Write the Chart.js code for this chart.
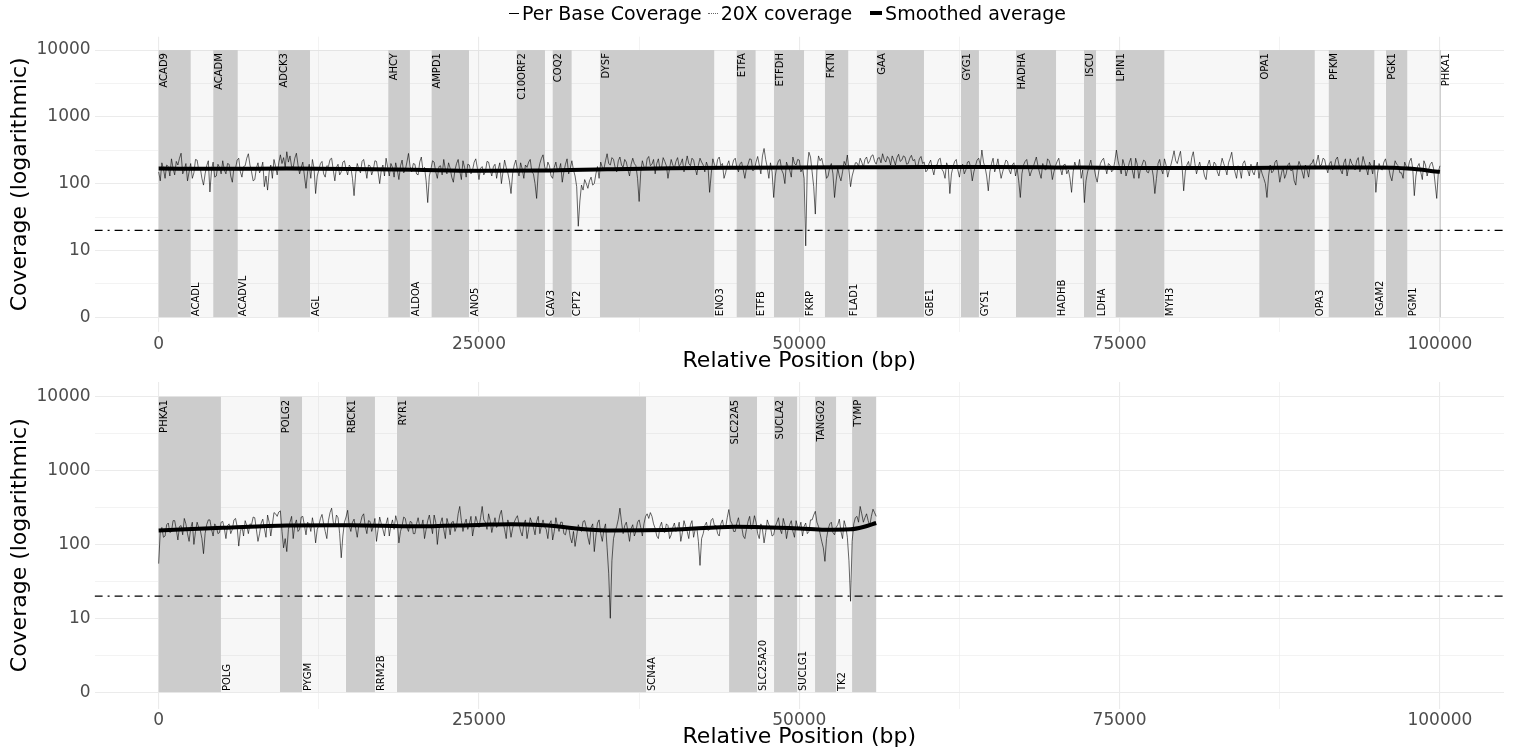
<!DOCTYPE html>
<html>
<head>
<meta charset="utf-8">
<script src="https://cdn.jsdelivr.net/npm/chart.js@4.4.1/dist/chart.umd.min.js"></script>
<style>
  body { margin: 0; background: #fff; width: 1513px; height: 753px; overflow: hidden; font-family: "DejaVu Sans", sans-serif; }
  .panel { position: absolute; left: 0; width: 1513px; }
  #p1 { top: 0; height: 376px; }
  #p2 { top: 366px; height: 387px; }
  #legend { position: absolute; top: 1px; left: 0; width: 1451px; padding-left: 62px; height: 24px; display: flex; justify-content: center; align-items: center; font-size: 19px; color: #000; z-index: 2; }
  .key { display: inline-block; width: 10px; margin-right: 3px; }
  .key.thin { border-top: 1px solid #000; }
  .key.dot { border-top: 1px dotted #666; }
  .key.thick { border-top: 4px solid #000; width: 12px; }
  .gap { display: inline-block; width: 6px; }
  .gap2 { display: inline-block; width: 18px; }
</style>
</head>
<body>
<div id="legend">
  <span class="key thin"></span><span>Per Base Coverage</span><span class="gap"></span>
  <span class="key dot"></span><span>20X coverage</span><span class="gap2"></span>
  <span class="key thick"></span><span>Smoothed average</span>
</div>
<div class="panel" id="p1"><canvas id="grafico1"></canvas></div>
<div class="panel" id="p2"><canvas id="grafico2"></canvas></div>
<script>
const coverageStep = 125;

const panel1Coverage = [
  150,110,205,165,120,190,180,130,235,170,135,215,190,240,285,140,160,200,110,150,200,120,145,230,225,160,170,120,95,140,185,220,75,160,210,125,130,195,175,140,
  220,160,140,200,195,130,105,175,170,225,240,150,125,180,185,240,280,190,150,110,115,170,205,145,165,210,90,130,80,150,190,120,230,180,135,205,270,200,245,175,
  300,210,260,180,175,240,285,190,140,175,210,130,85,150,195,120,230,170,71,130,160,200,215,140,125,185,180,230,240,160,110,175,195,135,150,210,220,165,135,190,
  175,120,66,140,200,165,145,215,230,170,120,190,185,135,160,220,215,150,100,160,190,130,240,175,130,200,175,125,205,160,115,185,225,145,160,210,283,180,150,200,
  195,140,135,210,250,160,175,110,52,130,165,220,210,150,120,180,185,135,230,165,140,205,170,125,105,160,200,230,155,115,220,175,125,195,190,140,160,210,235,170,
  115,170,180,135,150,215,210,160,130,180,195,120,165,205,100,150,225,175,145,110,71,140,190,225,160,130,205,165,120,190,175,210,230,150,140,100,60,150,200,240,
  270,180,150,210,185,130,120,175,210,155,160,200,105,150,195,235,140,170,220,160,130,90,23,55,95,80,115,100,85,110,125,95,100,140,180,120,210,175,165,220,
  280,200,190,245,230,175,150,220,250,190,175,230,210,160,130,195,240,200,185,120,54,150,220,180,160,235,255,185,195,230,140,200,235,165,175,245,215,185,120,170,
  230,190,170,215,245,180,200,235,150,195,260,200,185,240,225,170,135,190,240,210,190,150,210,180,74,140,235,195,165,230,250,185,200,120,145,190,220,165,180,225,
  240,175,150,200,210,160,120,170,195,235,230,155,165,210,255,190,140,260,336,230,175,120,205,150,62,130,185,220,230,160,140,100,210,180,160,125,250,200,190,230,
  225,150,170,120,11.7,180,295,250,150,90,35,160,260,220,240,185,180,120,130,175,200,140,62,110,170,130,110,150,215,190,268,160,90,130,160,205,205,180,240,210,
  175,230,250,200,220,260,270,215,195,240,245,205,280,230,210,255,235,190,260,225,190,245,275,215,225,260,250,195,200,240,265,220,230,175,185,235,255,200,210,150,
  160,200,225,170,135,185,190,230,240,165,150,120,205,175,71,140,180,215,230,160,125,180,195,140,160,210,215,175,110,150,185,225,240,190,318,210,175,130,78,150,
  200,240,150,180,235,165,120,150,185,225,215,160,140,190,205,130,170,110,62,140,190,215,230,170,130,155,175,210,250,185,145,120,200,165,160,235,220,180,115,150,
  185,215,240,170,135,190,195,140,160,120,74,150,210,175,170,230,120,160,52,110,150,185,225,165,180,130,105,155,200,225,240,180,140,200,190,150,160,215,318,220,
  175,140,230,190,130,160,205,240,155,120,240,195,120,165,190,225,215,150,145,180,180,130,71,120,200,230,165,140,235,190,125,160,190,240,310,220,200,250,305,180,
  78,150,190,215,160,245,300,200,140,175,210,160,175,130,115,190,225,170,160,210,195,150,130,180,240,200,170,135,205,240,295,190,150,120,185,165,120,200,220,175,
  160,130,195,150,135,175,210,120,175,140,120,100,62,130,190,145,155,210,225,165,105,140,180,120,140,190,205,155,165,110,95,170,215,185,150,120,190,160,125,195,
  200,230,165,210,268,185,190,240,230,175,145,200,215,160,175,230,250,190,160,140,205,235,130,175,235,200,185,160,220,245,150,180,255,205,170,135,210,185,140,225,
  74,140,200,165,160,210,235,180,175,130,110,160,220,195,185,145,145,120,210,180,165,215,240,170,66,130,180,200,150,115,220,190,130,165,195,210,170,100,60,150,
  185
];

const panel2Coverage = [
  55,150,170,125,130,185,195,145,150,210,210,160,115,175,180,135,225,190,140,110,165,200,100,150,200,170,155,120,75,140,185,215,215,160,130,190,175,140,145,200,
  205,165,120,180,190,140,160,215,225,175,95,150,175,130,210,180,140,190,185,235,230,160,110,140,195,220,165,125,250,200,130,185,270,260,240,275,285,150,90,120,
  80,160,200,240,120,185,215,150,160,235,240,180,135,200,190,150,230,175,105,160,180,225,255,190,150,120,210,270,310,200,175,250,230,140,66,130,200,235,290,180,
  150,200,220,165,125,185,195,240,260,175,140,210,205,150,175,225,110,160,235,190,160,130,190,230,130,180,215,160,245,200,105,150,180,235,225,170,150,205,200,140,
  140,190,230,175,170,215,120,160,210,250,185,140,250,200,100,160,195,230,160,120,225,185,135,200,205,150,175,260,327,210,150,190,220,160,190,240,130,175,240,200,
  170,230,327,215,200,160,260,210,145,185,230,170,185,250,290,200,160,120,215,180,125,165,200,225,245,190,150,130,190,215,120,160,230,200,170,135,205,240,140,180,
  215,175,160,120,190,210,115,150,230,180,150,200,200,140,135,175,175,125,105,150,94,130,185,160,150,205,210,170,125,100,170,190,80,130,195,215,140,110,160,190,
  90,40,10,60,120,150,175,220,310,200,140,180,200,150,110,165,185,130,150,200,215,170,130,190,240,260,225,270,240,190,165,130,120,175,200,150,145,190,180,120,
  135,170,195,150,160,200,110,145,210,175,150,120,185,210,125,160,170,110,52,120,140,180,200,155,160,215,225,180,180,140,130,190,215,165,170,230,297,210,190,150,
  150,195,230,170,175,130,120,160,205,240,160,185,245,200,140,120,190,160,105,145,215,185,170,130,135,175,200,230,160,140,225,185,120,160,185,210,150,125,210,170,
  165,200,130,175,195,140,150,215,215,250,281,200,175,140,110,90,59,120,160,190,200,145,135,170,185,220,150,120,210,175,125,60,17,110,190,230,240,200,327,260,
  200,230,260,210,180,240,300,270,240
];

// smoothed average
const panel1SmoothPos = [0,5000,10000,15000,20000,25000,30000,35000,40000,45000,50000,55000,60000,65000,70000,75000,80000,85000,90000,95000,97500,100000];
const panel1SmoothVals = [168,167,168,166,161,156,157,164,170,173,175,176,177,177,175,172,171,172,175,174,168,150];
const panel2SmoothPos = [0,5000,10000,15000,20000,25000,27500,30000,35000,40000,45000,50000,52000,54000,55000,56000];
const panel2SmoothVals = [155,168,181,182,176,184,188,182,155,158,174,165,158,160,172,195];

// genes (start positions, bp)
const panel1Genes = ["ACAD9","ACADL","ACADM","ACADVL","ADCK3","AGL","AHCY","ALDOA","AMPD1","ANO5","C10ORF2","CAV3","COQ2","CPT2","DYSF","ENO3","ETFA","ETFB","ETFDH","FKRP","FKTN","FLAD1","GAA","GBE1","GYG1","GYS1","HADHA","HADHB","ISCU","LDHA","LPIN1","MYH3","OPA1","OPA3","PFKM","PGAM2","PGK1","PGM1","PHKA1"];
const panel1Starts = [0,2500,4260,6170,9330,11810,17920,19610,21300,24220,27940,30150,30750,32230,34440,43360,45110,46590,48020,50370,52000,53820,56040,59730,62620,64020,66910,70040,72220,73160,74690,78490,85900,90230,91320,94880,95790,97450,100000];
const panel1End = 100000;
const panel2Genes = ["PHKA1","POLG","POLG2","PYGM","RBCK1","RRM2B","RYR1","SCN4A","SLC22A5","SLC25A20","SUCLA2","SUCLG1","TANGO2","TK2","TYMP"];
const panel2Starts = [0,4860,9470,11190,14620,16880,18600,38040,44520,46700,48030,49830,51230,52870,54120];
const panel2End = 56000;

const threshold = 20;

// axes
const xTickValues = [0,25000,50000,75000,100000];
const xMinorValues = [12500,37500,62500,87500];
const yTickValues = [1,10,100,1000,10000];
const yTickLabels = ["0","10","100","1000","10000"];
const yMinorValues = [3.1623,31.623,316.23,3162.3];

Chart.defaults.font.family = "DejaVu Sans";
Chart.defaults.animation = false;

const genePlugin = {
  id: "genes",
  beforeDatasetsDraw(chart, args, opts) {
    const { ctx, scales: { x, y } } = chart;
    const top = y.getPixelForValue(10000);
    const bottom = y.getPixelForValue(1);
    ctx.save();
    opts.starts.forEach((s, i) => {
      const e = i + 1 < opts.starts.length ? opts.starts[i + 1] : opts.end;
      const x0 = x.getPixelForValue(s);
      const x1 = x.getPixelForValue(e);
      ctx.fillStyle = i % 2 === 0 ? "#cccccc" : "rgba(0,0,0,0.03)";
      ctx.fillRect(x0, top, Math.max(x1 - x0, 1), bottom - top);
    });
    ctx.restore();
  },
  afterDatasetsDraw(chart, args, opts) {
    const { ctx, scales: { x, y } } = chart;
    const top = y.getPixelForValue(10000);
    const bottom = y.getPixelForValue(1);
    ctx.save();
    ctx.font = "10px 'DejaVu Sans'";
    ctx.fillStyle = "#000";
    ctx.textBaseline = "top";
    opts.names.forEach((name, i) => {
      const px = x.getPixelForValue(opts.starts[i]);
      ctx.save();
      if (i % 2 === 0) {
        ctx.translate(px + 1, top + 3);
        ctx.rotate(-Math.PI / 2);
        ctx.textAlign = "right";
      } else {
        ctx.translate(px + 1, bottom - 1);
        ctx.rotate(-Math.PI / 2);
        ctx.textAlign = "left";
      }
      ctx.fillText(name, 0, 0);
      ctx.restore();
    });
    ctx.restore();
  },
};

function criarPainel(id, coverage, smoothPos, smoothVals, names, starts, end, padTop, xHeight, titleBottom) {
  const covData = coverage.map((v, i) => ({ x: i * coverageStep, y: v }));
  const smoothData = smoothPos.map((p, i) => ({ x: p, y: smoothVals[i] }));
  const tickFont = { size: 17, family: "DejaVu Sans" };

  return new Chart(document.getElementById(id), {
    type: "line",
    data: {
      datasets: [
        { label: "Smoothed average", data: smoothData, borderColor: "#000", borderWidth: 4, pointRadius: 0, cubicInterpolationMode: "monotone", fill: false },
        { label: "Per Base Coverage", data: covData, borderColor: "#000", borderWidth: 0.6, pointRadius: 0, tension: 0, fill: false },
        { label: "20X coverage", data: [{ x: -5000, y: threshold }, { x: 105000, y: threshold }], borderColor: "#000", borderWidth: 1.3, borderDash: [8, 5, 2, 5], pointRadius: 0, fill: false },
      ],
    },
    options: {
      responsive: true,
      maintainAspectRatio: false,
      parsing: false,
      layout: { padding: { top: padTop, right: 9, left: 0, bottom: 0 } },
      plugins: {
        legend: { display: false },
        tooltip: { enabled: false },
        genes: { names, starts, end },
      },
      scales: {
        x: {
          type: "linear",
          min: -5000,
          max: 105000,
          afterBuildTicks: (s) => { s.ticks = xTickValues.concat(xMinorValues).sort((a, b) => a - b).map((v) => ({ value: v })); },
          afterFit: (s) => { s.height = xHeight; },
          border: { display: false },
          grid: { color: "#ebebeb", drawTicks: false, lineWidth: (c) => (xTickValues.includes(c.tick && c.tick.value) ? 1.1 : 0.6) },
          ticks: { padding: 2, color: "#4d4d4d", font: tickFont, maxRotation: 0, autoSkip: false, callback: (v) => (xTickValues.includes(v) ? String(v) : "") },
          title: { display: true, text: "Relative Position (bp)", color: "#000", font: { size: 22 }, padding: { top: 0, bottom: titleBottom } },
        },
        y: {
          type: "logarithmic",
          min: Math.pow(10, -0.2),
          max: Math.pow(10, 4.2),
          afterBuildTicks: (s) => { s.ticks = yTickValues.concat(yMinorValues).sort((a, b) => a - b).map((v) => ({ value: v })); },
          afterFit: (s) => { s.width = 94.6; },
          border: { display: false },
          grid: { color: "#ebebeb", drawTicks: false, lineWidth: (c) => (yTickValues.includes(c.tick && c.tick.value) ? 1.1 : 0.6) },
          ticks: { padding: 4, color: "#4d4d4d", font: tickFont, autoSkip: false, callback: (v) => { const k = yTickValues.indexOf(v); return k >= 0 ? yTickLabels[k] : ""; } },
          title: { display: true, text: "Coverage (logarithmic)", color: "#000", font: { size: 22 }, padding: { top: 7, bottom: 0 } },
        },
      },
    },
    plugins: [genePlugin],
  });
}

criarPainel("grafico1", panel1Coverage, panel1SmoothPos, panel1SmoothVals, panel1Genes, panel1Starts, panel1End, 36.7, 44, 2);
criarPainel("grafico2", panel2Coverage, panel2SmoothPos, panel2SmoothVals, panel2Genes, panel2Starts, panel2End, 16, 44.5, 3);
</script>
</body>
</html>
